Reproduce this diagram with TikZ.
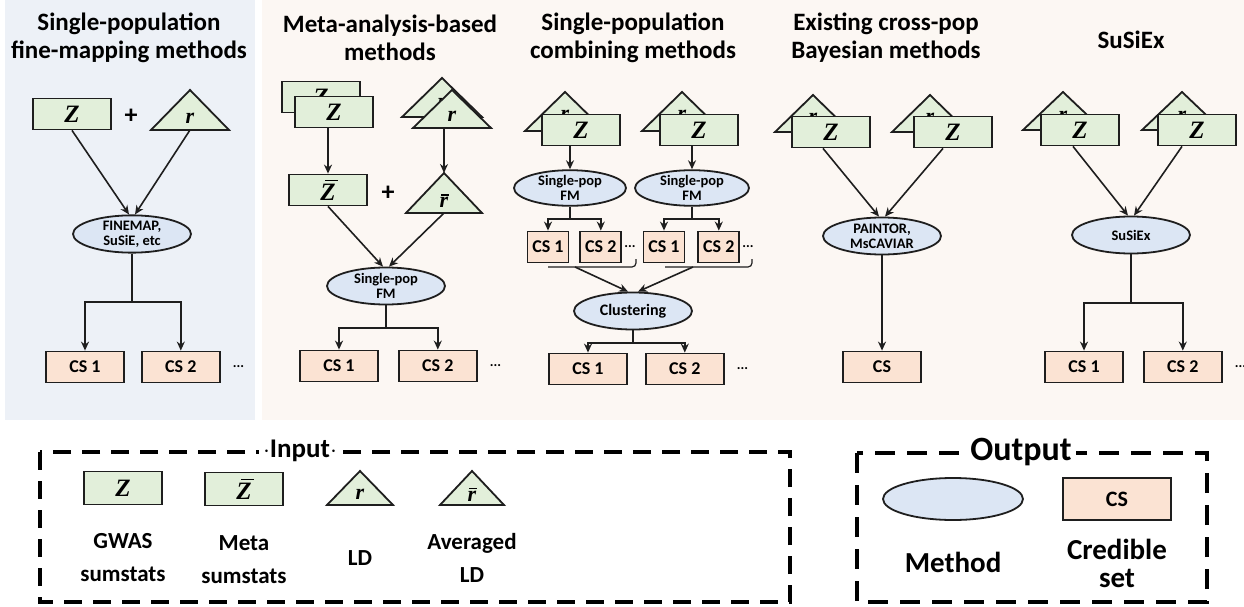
\documentclass[tikz,border=0pt]{standalone}
\usepackage{fontspec}
\setmainfont{Carlito}
\newfontfamily\symfont{Liberation Serif}
\usepackage{tikz}
\usetikzlibrary{arrows.meta,positioning,shapes.geometric}
\definecolor{zgreen}{HTML}{E2EFDA}
\definecolor{cspeach}{HTML}{FBE3D3}
\definecolor{methblue}{HTML}{DCE6F4}
\definecolor{panelblue}{HTML}{EDF1F7}
\definecolor{panelpeach}{HTML}{FCF7F3}
\definecolor{ink}{HTML}{1E1E1E}
% symbols in the boxes and triangles
\newcommand{\zsym}{{\symfont\bfseries\itshape Z}}
\newcommand{\zbarsym}{{\symfont\bfseries\itshape\rlap{\hspace{0.2em}\rule[0.76em]{0.52em}{0.06em}}Z}}
\newcommand{\rsym}{{\symfont\bfseries\itshape r}}
\newcommand{\rbarsym}{{\symfont\bfseries\itshape\rlap{\hspace{0.08em}\rule[0.56em]{0.36em}{0.06em}}r}}
% LD triangle: [label height], name, base centre, label, half width, height
\newcommand{\ldtri}[6][0.3]{%
  \begin{scope}[shift={(#3)}]
    \filldraw[ldline] (-#5,0) -- (0,-#6) -- (#5,0) -- cycle;
    \coordinate (#2) at (0,0);
    \coordinate (#2-top) at (0,-#6);
    \node[ldlabel] (#2-lbl) at (0,-#1*#6) {#4};
  \end{scope}}
\tikzset{
    %Define standard arrow tip
    >={Stealth[length=9pt,width=8pt]},
    %Define style for boxes
    zbox/.style={
           rectangle,
           draw=ink, line width=1.8pt,
           fill=zgreen,
           minimum width=78pt,
           minimum height=31pt,
           inner sep=0pt,
           font=\fontsize{25}{26}\selectfont},
    csbox/.style={
           rectangle,
           draw=ink, line width=1.8pt,
           fill=cspeach,
           minimum width=78pt,
           minimum height=31pt,
           inner sep=0pt,
           font=\bfseries\fontsize{18}{20}\selectfont},
    smallcs/.style={csbox, minimum width=41pt},
    method/.style={
           ellipse,
           draw=ink, line width=1.8pt,
           fill=methblue,
           minimum width=118pt,
           minimum height=37pt,
           inner sep=0pt,
           align=center,
           font=\bfseries\fontsize{14.5}{15}\selectfont},
    ldline/.style={draw=ink, line width=1.8pt, fill=zgreen},
    ldlabel/.style={inner sep=0pt, font=\fontsize{22}{22}\selectfont},
    title/.style={align=center, inner sep=0pt, font=\bfseries\fontsize{25}{28}\selectfont},
    plus/.style={inner sep=0pt, font=\bfseries\fontsize{26}{26}\selectfont},
    dots/.style={inner sep=0pt, font=\bfseries\fontsize{14}{14}\selectfont},
    % Define arrow style
    flow/.style={->, draw=ink, line width=1.6pt},
    link/.style={draw=ink, line width=1.6pt},
    legbox/.style={draw=black, line width=4pt, dash pattern=on 18pt off 11pt},
    legtext/.style={align=center, inner sep=0pt, font=\bfseries\fontsize{23}{36}\selectfont}
}
\begin{document}
\begin{tikzpicture}[x=1pt,y=-1pt]
\useasboundingbox (0,0) rectangle (1244,607);
\fill[white] (0,0) rectangle (1244,607);
\fill[panelblue] (5,0) rectangle (255,420);
\fill[panelpeach] (262,0) rectangle (1244,420);

 %single-population
\node[title] (t1) at (129,38) {Single-population\\fine-mapping methods};
\node[zbox] (z1) at (72,114) {\zsym};
\node[plus] (p1) at (131,116) {+};
\ldtri{r1}{190,130}{\rsym}{39}{40}
\node[method] (fm1) at (132,234) {FINEMAP,\\SuSiE, etc};
\coordinate (br1) at (132,302);
\node[csbox] (cs1a) at (85,367) {CS 1};
\node[csbox, right=16pt of cs1a] (cs1b) {CS 2};
\node[dots, right=12pt of cs1b] (d1) {...};
\draw[flow] (z1.south) -- ([xshift=-3pt]fm1.north);
\draw[flow] (r1) -- ([xshift=3pt]fm1.north);
\draw[link] (fm1.south) -- (br1);
\draw[flow] (br1) -| (cs1a.north);
\draw[flow] (br1) -| (cs1b.north);

 %meta-analysis
\node[title] (t2) at (390,38) {Meta-analysis-based\\methods};
\node[zbox] (z2back) at (321,97) {\zsym};
\node[zbox] (z2) at (334,112) {\zsym};
\ldtri[0.35]{r2back}{442,117}{\rsym}{40}{39}
\ldtri{r2}{452,128}{\rsym}{39}{38}
\node[zbox] (zb2) at (328,190) {\zbarsym};
\node[plus] (p2) at (388,193) {+};
\ldtri{rb2}{444,213}{\rbarsym}{38}{40}
\node[method] (fm2) at (386,286) {Single-pop\\FM};
\coordinate (br2) at (386,328);
\node[csbox] (cs2a) at (339,366) {CS 1};
\node[csbox, right=19pt of cs2a] (cs2b) {CS 2};
\node[dots, right=12pt of cs2b] (d2) {...};
\draw[flow] (zb2.north |- z2.south) -- (zb2.north);
\draw[flow] (rb2-top |- r2) -- (rb2-top);
\draw[flow] (zb2.south) -- ([xshift=-3pt]fm2.north);
\draw[flow] (rb2) -- ([xshift=3pt]fm2.north);
\draw[link] (fm2.south) -- (br2);
\draw[flow] (br2) -| (cs2a.north);
\draw[flow] (br2) -| (cs2b.north);

 %combining
\node[title] (t3) at (633,38) {Single-population\\combining methods};
\ldtri[0.4]{r3a}{565,131}{\rsym}{40}{39}
\node[zbox] (z3a) at (581,130) {\zsym};
\ldtri[0.4]{r3b}{682,131}{\rsym}{40}{39}
\node[zbox] (z3b) at (699,130) {\zsym};
\node[method, minimum width=112pt, minimum height=32pt] (fm3a) at (570,188) {Single-pop\\FM};
\node[method, minimum width=114pt, minimum height=32pt] (fm3b) at (692,188) {Single-pop\\FM};
\draw[flow] (fm3a.north |- z3a.south) -- (fm3a.north);
\draw[flow] (fm3b.north |- z3b.south) -- (fm3b.north);
\coordinate (br3a) at (570,219);
\coordinate (br3b) at (692,219);
\node[smallcs] (cs3a) at (548,247) {CS 1};
\node[smallcs, right=10pt of cs3a] (cs3b) {CS 2};
\node[dots, right=2pt of cs3b] (d3a) {...};
\node[smallcs] (cs3c) at (664,247) {CS 1};
\node[smallcs, right=12pt of cs3c] (cs3d) {CS 2};
\node[dots, right=2pt of cs3d] (d3b) {...};
\draw[link] (fm3a.south) -- (br3a);
\draw[flow] (br3a) -| (cs3a.north);
\draw[flow] (br3a) -| (cs3b.north);
\draw[link] (fm3b.south) -- (br3b);
\draw[flow] (br3b) -| (cs3c.north);
\draw[flow] (br3b) -| (cs3d.north);
\coordinate (bk3a) at (548,267);
\coordinate (bk3a-end) at (636,259);
\coordinate (bk3b) at (665,267);
\coordinate (bk3b-end) at (752,259);
\draw[link, line width=1.2pt, rounded corners=4pt] (bk3a) -| (bk3a-end);
\draw[link, line width=1.2pt, rounded corners=4pt] (bk3b) -| (bk3b-end);
\coordinate (cv3a) at (575,267);
\coordinate (cv3b) at (693,267);
\node[method, font=\bfseries\fontsize{16}{17}\selectfont] (clu) at (633,311) {Clustering};
\draw[flow] (cv3a) -- ([xshift=-5pt]clu.north);
\draw[flow] (cv3b) -- ([xshift=5pt]clu.north);
\coordinate (br3) at (633,343);
\node[csbox] (cs3e) at (588,369) {CS 1};
\node[csbox, right=17pt of cs3e] (cs3f) {CS 2};
\node[dots, right=12pt of cs3f] (d3c) {...};
\draw[link] (clu.south) -- (br3);
\draw[flow] (br3) -| (cs3e.north);
\draw[flow] (br3) -| (cs3f.north);

 %cross-pop bayesian
\node[title] (t4) at (886,38) {Existing cross-pop\\Bayesian methods};
\ldtri[0.38]{r4a}{813,132}{\rsym}{38}{37}
\node[zbox] (z4a) at (831,132) {\zsym};
\ldtri[0.38]{r4b}{930,132}{\rsym}{38}{37}
\node[zbox] (z4b) at (953,132) {\zsym};
\node[method] (fm4) at (882,236) {PAINTOR,\\MsCAVIAR};
\node[csbox] (cs4) at (882,367) {CS};
\draw[flow] ([xshift=-8pt]z4a.south) -- ([xshift=-3pt]fm4.north);
\draw[flow] ([xshift=-10pt]z4b.south) -- ([xshift=3pt]fm4.north);
\draw[flow] (fm4.south) -- (cs4.north);

 %susiex
\node[title] (t5) at (1131,40) {SuSiEx};
\ldtri[0.37]{r5a}{1063,130}{\rsym}{40}{38}
\node[zbox] (z5a) at (1080,130) {\zsym};
\ldtri[0.37]{r5b}{1182,130}{\rsym}{40}{38}
\node[zbox] (z5b) at (1197,130) {\zsym};
\node[method] (fm5) at (1131,235) {SuSiEx};
\coordinate (br5) at (1131,303);
\node[csbox] (cs5a) at (1084,367) {CS 1};
\node[csbox, right=19pt of cs5a] (cs5b) {CS 2};
\node[dots, right=12pt of cs5b] (d5) {...};
\draw[flow] ([xshift=-7pt]z5a.south) -- ([xshift=-3pt]fm5.north);
\draw[flow] ([xshift=-15pt]z5b.south) -- ([xshift=3pt]fm5.north);
\draw[link] (fm5.south) -- (br5);
\draw[flow] (br5) -| (cs5a.north);
\draw[flow] (br5) -| (cs5b.north);

 %legend
\draw[legbox] (40,452) rectangle (790,602);
\node[legtext, fill=white, inner xsep=4pt, font=\bfseries\fontsize{27}{28}\selectfont] (lin) at (300,451) {$\cdot$Input$\cdot$};
\node[zbox, minimum height=33pt] (lz) at (123,488) {\zsym};
\node[legtext] (lzt) at (123,558) {GWAS\\[-3pt]sumstats};
\node[zbox, minimum height=33pt] (lzb) at (244,489) {\zbarsym};
\node[legtext] (lzbt) at (244,560) {Meta\\[-3pt]sumstats};
\ldtri{lr}{360,505}{\rsym}{33}{34}
\node[legtext] (lrt) at (360,558) {LD};
\ldtri{lrb}{472,505}{\rbarsym}{32}{34}
\node[legtext] (lrbt) at (472,558) {Averaged\\[-3pt]LD};

\draw[legbox, line width=4.5pt, dash pattern=on 20pt off 12pt] (857,453) rectangle (1207,602);
\node[legtext, fill=white, inner xsep=4pt, font=\bfseries\fontsize{34}{36}\selectfont] (lout) at (1021,452) {Output};
\node[method, minimum width=140pt, minimum height=42pt] (lm) at (953,499) {};
\node[legtext, font=\bfseries\fontsize{29}{32}\selectfont] (lmt) at (953,562) {Method};
\node[csbox, minimum width=108pt, minimum height=42pt, font=\bfseries\fontsize{22}{24}\selectfont] (lcs) at (1117,499) {CS};
\node[legtext, font=\bfseries\fontsize{29}{36}\selectfont] (lcst) at (1117,563) {Credible\\[-8pt]set};

\end{tikzpicture}
\end{document}
